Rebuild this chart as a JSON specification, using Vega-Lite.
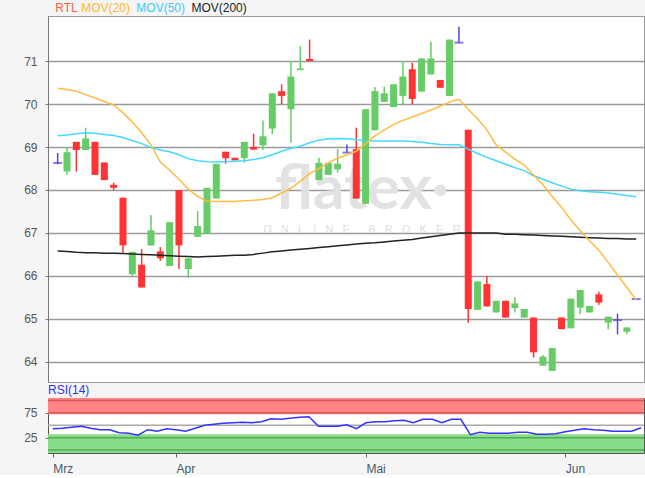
{
"$schema": "https://vega.github.io/schema/vega-lite/v6.json",
"background": "#f5f5f5",
"padding": {"left": 23, "top": 1, "right": 0, "bottom": 0},
"config": {"font": "Liberation Sans", "concat": {"spacing": 0}},
"datasets": {"k": [
{"i":0,"o":68.63,"h":68.86,"l":68.60,"c":68.63,"d":"doji","ma20":70.37,"ma50":69.26,"ma200":66.58,"rsi":43},
{"i":1,"o":68.43,"h":69.00,"l":68.35,"c":68.88,"d":"up","ma20":70.34,"ma50":69.28,"ma200":66.57,"rsi":44},
{"i":2,"o":69.12,"h":69.12,"l":68.43,"c":68.93,"d":"down","ma20":70.30,"ma50":69.31,"ma200":66.55,"rsi":46},
{"i":3,"o":68.93,"h":69.45,"l":68.93,"c":69.20,"d":"up","ma20":70.22,"ma50":69.33,"ma200":66.54,"rsi":48},
{"i":4,"o":69.12,"h":69.12,"l":68.35,"c":68.35,"d":"down","ma20":70.14,"ma50":69.32,"ma200":66.54,"rsi":44},
{"i":5,"o":68.64,"h":68.64,"l":68.23,"c":68.23,"d":"down","ma20":70.06,"ma50":69.29,"ma200":66.53,"rsi":41},
{"i":6,"o":68.12,"h":68.17,"l":68.00,"c":68.05,"d":"down","ma20":69.98,"ma50":69.27,"ma200":66.53,"rsi":41},
{"i":7,"o":67.82,"h":67.82,"l":66.54,"c":66.71,"d":"down","ma20":69.80,"ma50":69.22,"ma200":66.52,"rsi":35},
{"i":8,"o":66.04,"h":66.56,"l":66.00,"c":66.56,"d":"up","ma20":69.58,"ma50":69.15,"ma200":66.51,"rsi":34},
{"i":9,"o":66.26,"h":66.62,"l":65.73,"c":65.73,"d":"down","ma20":69.33,"ma50":69.08,"ma200":66.50,"rsi":30},
{"i":10,"o":66.71,"h":67.42,"l":66.71,"c":67.06,"d":"up","ma20":69.05,"ma50":68.99,"ma200":66.49,"rsi":41},
{"i":11,"o":66.57,"h":66.67,"l":66.35,"c":66.41,"d":"down","ma20":68.65,"ma50":68.93,"ma200":66.48,"rsi":38},
{"i":12,"o":66.23,"h":67.25,"l":66.23,"c":67.25,"d":"up","ma20":68.46,"ma50":68.89,"ma200":66.47,"rsi":43},
{"i":13,"o":68.00,"h":68.00,"l":66.16,"c":66.71,"d":"down","ma20":68.25,"ma50":68.82,"ma200":66.46,"rsi":41},
{"i":14,"o":66.16,"h":66.41,"l":65.96,"c":66.41,"d":"up","ma20":68.02,"ma50":68.73,"ma200":66.45,"rsi":38},
{"i":15,"o":66.91,"h":67.51,"l":66.91,"c":67.16,"d":"up","ma20":67.85,"ma50":68.68,"ma200":66.44,"rsi":44},
{"i":16,"o":66.99,"h":68.05,"l":66.99,"c":68.05,"d":"up","ma20":67.74,"ma50":68.66,"ma200":66.45,"rsi":50},
{"i":17,"o":67.80,"h":68.61,"l":67.80,"c":68.61,"d":"up","ma20":67.73,"ma50":68.65,"ma200":66.46,"rsi":52},
{"i":18,"o":68.89,"h":68.89,"l":68.61,"c":68.74,"d":"down","ma20":67.73,"ma50":68.66,"ma200":66.47,"rsi":54},
{"i":19,"o":68.75,"h":68.75,"l":68.69,"c":68.69,"d":"down","ma20":67.73,"ma50":68.67,"ma200":66.48,"rsi":55},
{"i":20,"o":68.74,"h":69.12,"l":68.64,"c":69.12,"d":"up","ma20":67.75,"ma50":68.68,"ma200":66.48,"rsi":56},
{"i":21,"o":69.00,"h":69.31,"l":68.94,"c":68.94,"d":"down","ma20":67.76,"ma50":68.71,"ma200":66.50,"rsi":55},
{"i":22,"o":69.04,"h":69.62,"l":68.93,"c":69.25,"d":"up","ma20":67.78,"ma50":68.75,"ma200":66.53,"rsi":57},
{"i":23,"o":69.43,"h":70.25,"l":69.30,"c":70.25,"d":"up","ma20":67.82,"ma50":68.82,"ma200":66.56,"rsi":63},
{"i":24,"o":70.30,"h":70.46,"l":70.00,"c":70.19,"d":"down","ma20":67.93,"ma50":68.90,"ma200":66.58,"rsi":62},
{"i":25,"o":69.88,"h":71.00,"l":69.10,"c":70.64,"d":"up","ma20":68.04,"ma50":68.97,"ma200":66.60,"rsi":64},
{"i":26,"o":70.79,"h":71.35,"l":70.79,"c":70.83,"d":"up","ma20":68.20,"ma50":69.02,"ma200":66.62,"rsi":66},
{"i":27,"o":71.05,"h":71.50,"l":71.00,"c":71.00,"d":"down","ma20":68.38,"ma50":69.10,"ma200":66.64,"rsi":67},
{"i":28,"o":68.23,"h":68.75,"l":68.23,"c":68.63,"d":"up","ma20":68.50,"ma50":69.16,"ma200":66.66,"rsi":48},
{"i":29,"o":68.35,"h":68.63,"l":68.35,"c":68.63,"d":"up","ma20":68.63,"ma50":69.19,"ma200":66.68,"rsi":48},
{"i":30,"o":68.48,"h":68.95,"l":68.40,"c":68.61,"d":"up","ma20":68.74,"ma50":69.20,"ma200":66.70,"rsi":48},
{"i":31,"o":68.87,"h":69.06,"l":68.87,"c":68.87,"d":"doji","ma20":68.82,"ma50":69.19,"ma200":66.72,"rsi":51},
{"i":32,"o":68.95,"h":69.45,"l":67.80,"c":67.80,"d":"down","ma20":68.90,"ma50":69.17,"ma200":66.74,"rsi":43},
{"i":33,"o":67.68,"h":69.88,"l":67.68,"c":69.88,"d":"up","ma20":69.08,"ma50":69.15,"ma200":66.76,"rsi":55},
{"i":34,"o":69.39,"h":70.40,"l":69.39,"c":70.30,"d":"up","ma20":69.26,"ma50":69.14,"ma200":66.77,"rsi":57},
{"i":35,"o":70.05,"h":70.40,"l":70.05,"c":70.25,"d":"up","ma20":69.40,"ma50":69.14,"ma200":66.79,"rsi":57},
{"i":36,"o":69.93,"h":70.46,"l":69.93,"c":70.46,"d":"up","ma20":69.52,"ma50":69.14,"ma200":66.81,"rsi":59},
{"i":37,"o":70.19,"h":71.00,"l":70.00,"c":70.64,"d":"up","ma20":69.62,"ma50":69.14,"ma200":66.83,"rsi":60},
{"i":38,"o":70.81,"h":70.96,"l":70.00,"c":70.12,"d":"down","ma20":69.70,"ma50":69.13,"ma200":66.85,"rsi":55},
{"i":39,"o":70.29,"h":71.06,"l":70.29,"c":71.06,"d":"up","ma20":69.78,"ma50":69.11,"ma200":66.88,"rsi":62},
{"i":40,"o":70.69,"h":71.45,"l":70.69,"c":71.06,"d":"up","ma20":69.86,"ma50":69.08,"ma200":66.91,"rsi":62},
{"i":41,"o":70.56,"h":70.56,"l":70.38,"c":70.38,"d":"down","ma20":69.95,"ma50":69.06,"ma200":66.94,"rsi":55},
{"i":42,"o":70.19,"h":71.50,"l":70.19,"c":71.50,"d":"up","ma20":70.05,"ma50":69.05,"ma200":66.97,"rsi":62},
{"i":43,"o":71.43,"h":71.80,"l":71.43,"c":71.43,"d":"doji","ma20":70.11,"ma50":69.05,"ma200":67.00,"rsi":62},
{"i":44,"o":69.40,"h":69.40,"l":64.91,"c":65.23,"d":"down","ma20":69.88,"ma50":68.95,"ma200":67.00,"rsi":31},
{"i":45,"o":65.21,"h":65.87,"l":65.21,"c":65.87,"d":"up","ma20":69.66,"ma50":68.85,"ma200":67.00,"rsi":36},
{"i":46,"o":65.81,"h":66.00,"l":65.29,"c":65.29,"d":"down","ma20":69.40,"ma50":68.76,"ma200":67.00,"rsi":34},
{"i":47,"o":65.15,"h":65.42,"l":65.15,"c":65.42,"d":"up","ma20":69.05,"ma50":68.68,"ma200":67.00,"rsi":34},
{"i":48,"o":65.42,"h":65.42,"l":65.03,"c":65.03,"d":"down","ma20":68.88,"ma50":68.60,"ma200":66.97,"rsi":34},
{"i":49,"o":65.25,"h":65.50,"l":65.15,"c":65.36,"d":"up","ma20":68.72,"ma50":68.52,"ma200":66.97,"rsi":36},
{"i":50,"o":65.03,"h":65.23,"l":65.03,"c":65.23,"d":"up","ma20":68.58,"ma50":68.45,"ma200":66.96,"rsi":36},
{"i":51,"o":65.03,"h":65.03,"l":64.10,"c":64.22,"d":"down","ma20":68.35,"ma50":68.33,"ma200":66.95,"rsi":32},
{"i":52,"o":63.91,"h":64.16,"l":63.91,"c":64.12,"d":"up","ma20":68.12,"ma50":68.25,"ma200":66.94,"rsi":32},
{"i":53,"o":63.79,"h":64.32,"l":63.79,"c":64.32,"d":"up","ma20":67.85,"ma50":68.17,"ma200":66.93,"rsi":33},
{"i":54,"o":65.03,"h":65.03,"l":64.76,"c":64.76,"d":"down","ma20":67.60,"ma50":68.09,"ma200":66.92,"rsi":37},
{"i":55,"o":64.78,"h":65.47,"l":64.78,"c":65.47,"d":"up","ma20":67.30,"ma50":68.02,"ma200":66.91,"rsi":40},
{"i":56,"o":65.26,"h":65.67,"l":65.11,"c":65.67,"d":"up","ma20":67.05,"ma50":67.98,"ma200":66.90,"rsi":43},
{"i":57,"o":65.15,"h":65.30,"l":65.15,"c":65.30,"d":"up","ma20":66.82,"ma50":67.96,"ma200":66.89,"rsi":41},
{"i":58,"o":65.57,"h":65.63,"l":65.33,"c":65.38,"d":"down","ma20":66.60,"ma50":67.95,"ma200":66.88,"rsi":40},
{"i":59,"o":64.91,"h":65.05,"l":64.76,"c":65.05,"d":"up","ma20":66.31,"ma50":67.93,"ma200":66.87,"rsi":38},
{"i":60,"o":64.97,"h":65.12,"l":64.64,"c":64.97,"d":"doji","ma20":66.02,"ma50":67.90,"ma200":66.87,"rsi":38},
{"i":61,"o":64.70,"h":64.80,"l":64.64,"c":64.80,"d":"up","ma20":65.73,"ma50":67.87,"ma200":66.86,"rsi":38},
{"i":62,"o":65.46,"h":65.46,"l":65.46,"c":65.46,"d":"doji","ma20":65.44,"ma50":67.84,"ma200":66.86,"rsi":45}
]},
"vconcat": [
{
 "width": 596, "height": 366,
 "view": {"stroke": "#999", "strokeWidth": 1, "fill": "white"},
 "data": {"name": "k"},
 "layer": [
  {"data": {"values": [{}]}, "mark": {"type": "text", "text": "flatex·", "fontSize": 62, "fontWeight": "bold", "font": "Lato", "color": "#e2e2e2", "align": "center", "baseline": "alphabetic"},
   "encoding": {"x": {"datum": 32.6, "type": "quantitative", "scale": {"domain": [-0.5, 62.3], "nice": false, "zero": false}, "axis": null}, "y": {"datum": 67.56, "type": "quantitative", "scale": {"domain": [63.53, 72.05], "nice": false, "zero": false}}}},
  {"data": {"values": [{}]}, "mark": {"type": "text", "text": "O\u00a0\u00a0\u00a0N\u00a0\u00a0\u00a0L\u00a0\u00a0\u00a0I\u00a0\u00a0\u00a0N\u00a0\u00a0\u00a0E\u00a0\u00a0\u00a0\u00a0\u00a0\u00a0B\u00a0\u00a0\u00a0R\u00a0\u00a0\u00a0O\u00a0\u00a0\u00a0K\u00a0\u00a0\u00a0E\u00a0\u00a0\u00a0R", "fontSize": 11, "color": "#e0e0e0", "align": "center", "baseline": "middle"},
   "encoding": {"x": {"datum": 32.6, "type": "quantitative"}, "y": {"datum": 67.08, "type": "quantitative"}}},
  {"mark": {"type": "rule", "strokeWidth": 1.5},
   "encoding": {"x": {"field": "i", "type": "quantitative"},
    "y": {"field": "l", "type": "quantitative",
     "axis": {"values": [64,65,66,67,68,69,70,71], "grid": true, "gridColor": "#9a9a9a", "gridWidth": 1.5, "domainColor": "#777", "tickColor": "#777", "tickSize": 3, "labelColor": "#555", "labelFontSize": 12, "labelPadding": 8, "title": null}},
    "y2": {"field": "h"},
    "color": {"field": "d", "type": "nominal", "scale": {"domain": ["up", "down", "doji"], "range": ["#66cc66", "#ff3333", "#5544dd"]}, "legend": null}}},
  {"transform": [{"filter": "datum.d != 'doji'"}],
   "mark": {"type": "bar", "width": 7, "orient": "vertical"},
   "encoding": {"x": {"field": "i", "type": "quantitative"}, "y": {"field": "o", "type": "quantitative"}, "y2": {"field": "c"},
    "color": {"field": "d", "type": "nominal", "legend": null}}},
  {"transform": [{"filter": "datum.d == 'doji'"}],
   "mark": {"type": "tick", "orient": "horizontal", "size": 9, "thickness": 2},
   "encoding": {"x": {"field": "i", "type": "quantitative"}, "y": {"field": "o", "type": "quantitative"},
    "color": {"field": "d", "type": "nominal", "legend": null}}},
  {"mark": {"type": "line", "color": "#222222", "strokeWidth": 1.5},
   "encoding": {"x": {"field": "i", "type": "quantitative"}, "y": {"field": "ma200", "type": "quantitative"}}},
  {"mark": {"type": "line", "color": "#44d8ff", "strokeWidth": 1.5},
   "encoding": {"x": {"field": "i", "type": "quantitative"}, "y": {"field": "ma50", "type": "quantitative"}}},
  {"mark": {"type": "line", "color": "#ffbb44", "strokeWidth": 1.5},
   "encoding": {"x": {"field": "i", "type": "quantitative"}, "y": {"field": "ma20", "type": "quantitative"}}},
  {"data": {"values": [{}]}, "mark": {"type": "text", "text": "RTL", "fontSize": 12, "color": "#ff5c45", "align": "left", "baseline": "middle"},
   "encoding": {"x": {"datum": -0.25, "type": "quantitative"}, "y": {"datum": 72.23, "type": "quantitative"}}},
  {"data": {"values": [{}]}, "mark": {"type": "text", "text": "MOV(20)", "fontSize": 12, "color": "#ffb833", "align": "left", "baseline": "middle"},
   "encoding": {"x": {"datum": 2.53, "type": "quantitative"}, "y": {"datum": 72.23, "type": "quantitative"}}},
  {"data": {"values": [{}]}, "mark": {"type": "text", "text": "MOV(50)", "fontSize": 12, "color": "#33ccff", "align": "left", "baseline": "middle"},
   "encoding": {"x": {"datum": 8.43, "type": "quantitative"}, "y": {"datum": 72.23, "type": "quantitative"}}},
  {"data": {"values": [{}]}, "mark": {"type": "text", "text": "MOV(200)", "fontSize": 12, "color": "#222222", "align": "left", "baseline": "middle"},
   "encoding": {"x": {"datum": 14.33, "type": "quantitative"}, "y": {"datum": 72.23, "type": "quantitative"}}}
 ]
},
{
 "width": 596, "height": 55,
 "title": {"text": "RSI(14)", "anchor": "start", "frame": "group", "color": "#3333ee", "fontSize": 12, "fontWeight": "normal", "offset": 1},
 "view": {"stroke": "#555", "strokeWidth": 1, "fill": "white"},
 "data": {"name": "k"},
 "layer": [
  {"data": {"values": [{}]}, "mark": {"type": "rect", "color": "#ff8585"},
   "encoding": {"y": {"datum": 72, "scale": {"domain": [-6, 105], "nice": false, "zero": false}}, "y2": {"datum": 105}}},
  {"data": {"values": [{}]}, "mark": {"type": "rect", "color": "#88dd88"},
   "encoding": {"y": {"datum": -6}, "y2": {"datum": 32}}},
  {"data": {"values": [{"v": 100}, {"v": 75}]}, "mark": {"type": "rule", "color": "#dd5555", "strokeWidth": 1.5},
   "encoding": {"y": {"field": "v", "type": "quantitative"}}},
  {"data": {"values": [{"v": 25}, {"v": 0}]}, "mark": {"type": "rule", "color": "#55aa55", "strokeWidth": 1.5},
   "encoding": {"y": {"field": "v", "type": "quantitative"}}},
  {"data": {"values": [{"v": 50}]}, "mark": {"type": "rule", "color": "#aaaaaa", "strokeWidth": 1.5},
   "encoding": {"y": {"field": "v", "type": "quantitative"}}},
  {"mark": {"type": "line", "color": "#3333ff", "strokeWidth": 1.5},
   "encoding": {
    "x": {"field": "i", "type": "quantitative", "scale": {"domain": [-0.5, 62.3], "nice": false, "zero": false},
     "axis": {"values": [0, 13, 33, 54], "labelExpr": "datum.value == 0 ? 'Mrz' : datum.value == 13 ? 'Apr' : datum.value == 33 ? 'Mai' : 'Jun'", "labelAlign": "left", "grid": false, "domain": false, "tickColor": "#666", "tickSize": 4, "labelColor": "#4a5a6a", "labelFontSize": 12, "labelPadding": 6, "title": null}},
    "y": {"field": "rsi", "type": "quantitative",
     "axis": {"values": [25, 75], "grid": false, "domainColor": "#555", "tickColor": "#777", "tickSize": 3, "labelColor": "#555", "labelFontSize": 12, "labelPadding": 8, "title": null}}}}
 ]
}
]
}
